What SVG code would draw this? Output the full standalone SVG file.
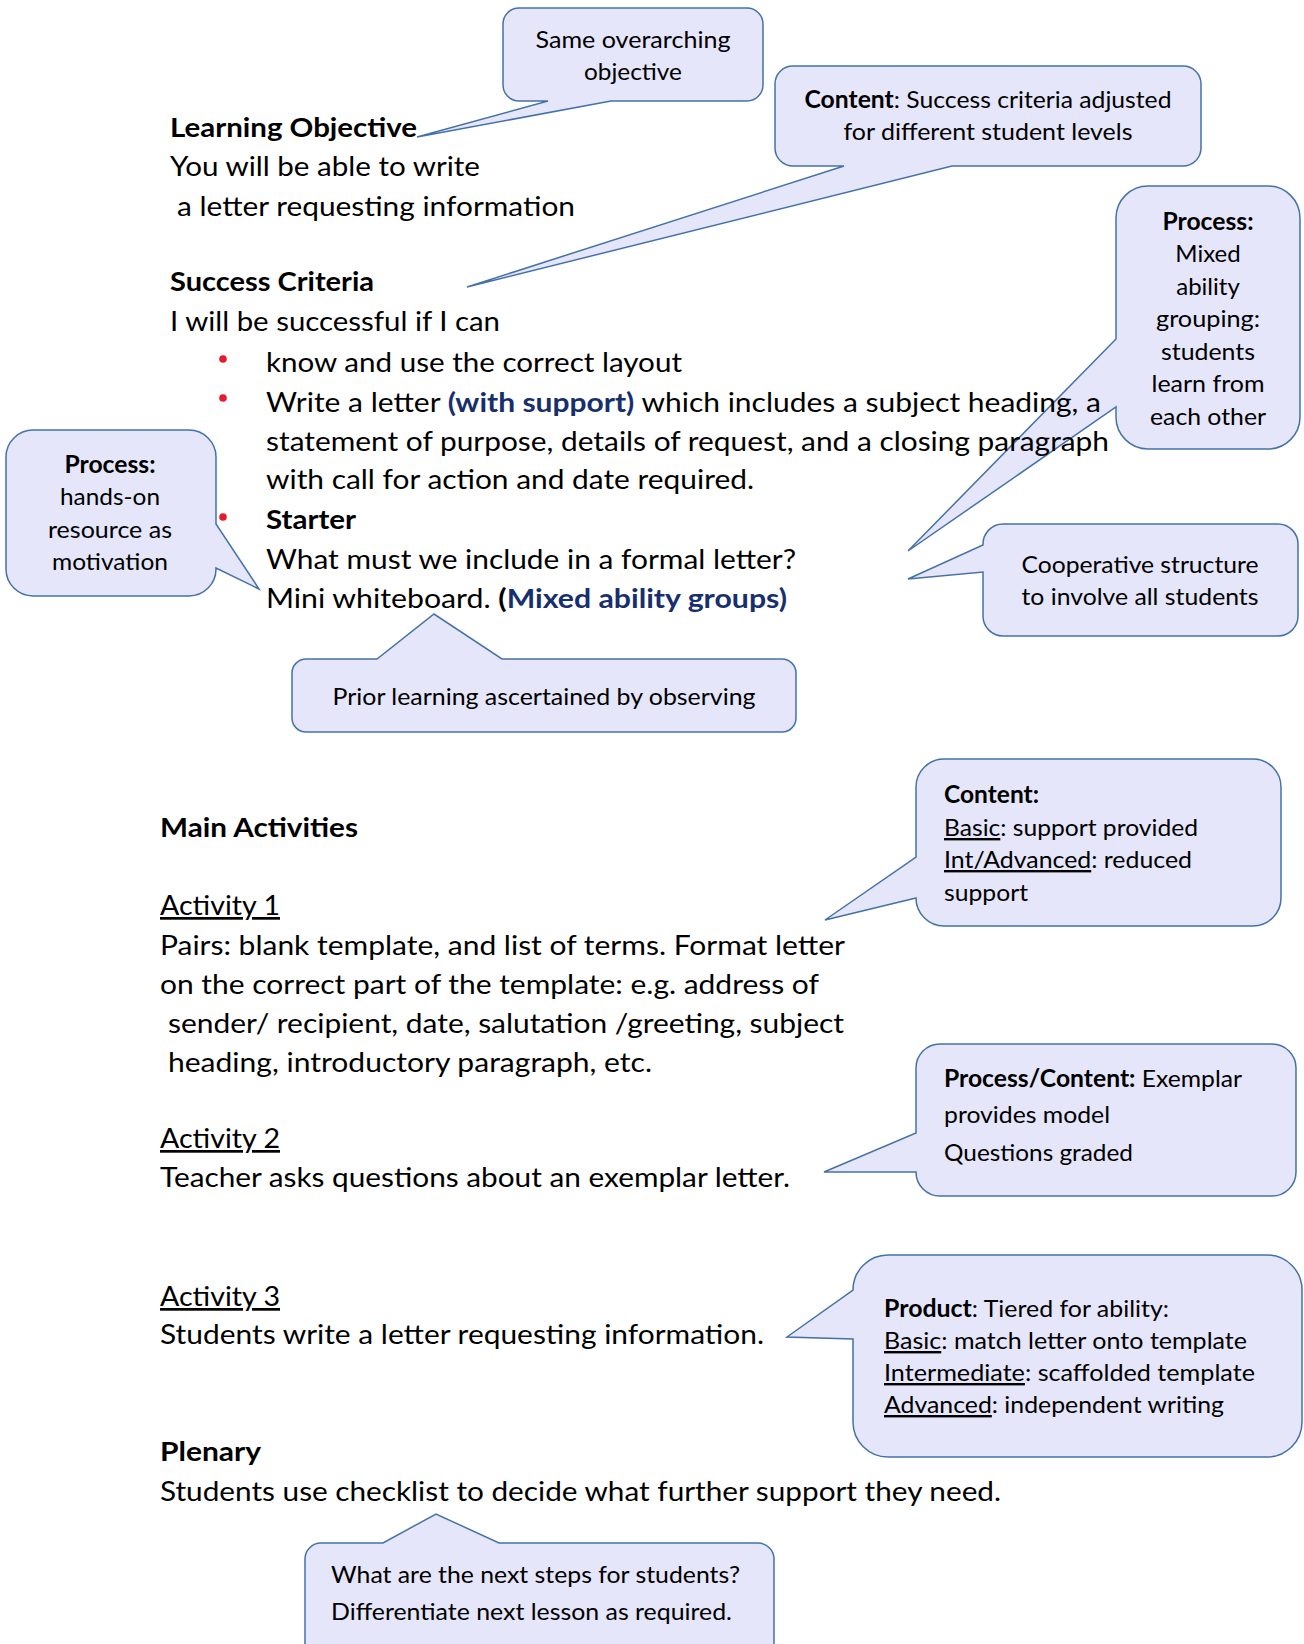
<svg xmlns="http://www.w3.org/2000/svg" width="1304" height="1644" viewBox="0 0 1304 1644">
<style>
text{font-family:Lato,"Open Sans","Liberation Sans",sans-serif;fill:#000}
.m{font-size:27px}
.c{font-size:24px}
.b{font-weight:bold}
.blue{fill:#182F6E;font-weight:bold}
.u{text-decoration:underline}
.mid{text-anchor:middle}
.co{fill:#E5E6FA;stroke:#4472A8;stroke-width:1.5;stroke-linejoin:miter}
.dot{fill:#E8192C}
</style>
<rect width="1304" height="1644" fill="#fff"/>

<g id="callout-same-objective">
<path class="co" d="M519,8 H747 A16,16 0 0 1 763,24 V85 A16,16 0 0 1 747,101 H611 L417,137 L548,101 H519 A16,16 0 0 1 503,85 V24 A16,16 0 0 1 519,8 Z"/>
<text class="c mid" x="633" y="48" textLength="195" lengthAdjust="spacingAndGlyphs">Same overarching</text>
<text class="c mid" x="633" y="80" textLength="98" lengthAdjust="spacingAndGlyphs">objective</text>
</g>

<g id="callout-content-criteria">
<path class="co" d="M793,66 H1183 A18,18 0 0 1 1201,84 V148 A18,18 0 0 1 1183,166 H952 L467,287 L844,166 H793 A18,18 0 0 1 775,148 V84 A18,18 0 0 1 793,66 Z"/>
<text class="c mid" x="988" y="108" textLength="367" lengthAdjust="spacingAndGlyphs"><tspan class="b">Content</tspan>: Success criteria adjusted</text>
<text class="c mid" x="988" y="140" textLength="289" lengthAdjust="spacingAndGlyphs">for different student levels</text>
</g>

<g id="callout-process-grouping">
<path class="co" d="M1148,186 H1268 A32,32 0 0 1 1300,218 V417 A32,32 0 0 1 1268,449 H1148 A32,32 0 0 1 1116,417 V407 L908,551 L1116,339 V218 A32,32 0 0 1 1148,186 Z"/>
<text class="c mid b" x="1208" y="230" textLength="91" lengthAdjust="spacingAndGlyphs">Process:</text>
<text class="c mid" x="1208" y="262">Mixed</text>
<text class="c mid" x="1208" y="295">ability</text>
<text class="c mid" x="1208" y="327" textLength="104" lengthAdjust="spacingAndGlyphs">grouping:</text>
<text class="c mid" x="1208" y="360" textLength="94" lengthAdjust="spacingAndGlyphs">students</text>
<text class="c mid" x="1208" y="392" textLength="113" lengthAdjust="spacingAndGlyphs">learn from</text>
<text class="c mid" x="1208" y="425" textLength="116" lengthAdjust="spacingAndGlyphs">each other</text>
</g>

<g id="callout-process-handson">
<path class="co" d="M33,430 H189 A27,27 0 0 1 216,457 V524 L259,589 L216,568 V569 A27,27 0 0 1 189,596 H33 A27,27 0 0 1 6,569 V457 A27,27 0 0 1 33,430 Z"/>
<text class="c mid b" x="110" y="473" textLength="91" lengthAdjust="spacingAndGlyphs">Process:</text>
<text class="c mid" x="110" y="505" textLength="100" lengthAdjust="spacingAndGlyphs">hands-on</text>
<text class="c mid" x="110" y="538" textLength="124" lengthAdjust="spacingAndGlyphs">resource as</text>
<text class="c mid" x="110" y="570" textLength="116" lengthAdjust="spacingAndGlyphs">motivation</text>
</g>

<g id="callout-cooperative">
<path class="co" d="M1003,524 H1278 A20,20 0 0 1 1298,544 V616 A20,20 0 0 1 1278,636 H1003 A20,20 0 0 1 983,616 V572 L908,579 L983,545 V544 A20,20 0 0 1 1003,524 Z"/>
<text class="c mid" x="1140" y="573" textLength="237" lengthAdjust="spacingAndGlyphs">Cooperative structure</text>
<text class="c mid" x="1140" y="605" textLength="237" lengthAdjust="spacingAndGlyphs">to involve all students</text>
</g>

<g id="callout-prior-learning">
<path class="co" d="M306,659 H377 L434,614 L502,659 H782 A14,14 0 0 1 796,673 V718 A14,14 0 0 1 782,732 H306 A14,14 0 0 1 292,718 V673 A14,14 0 0 1 306,659 Z"/>
<text class="c mid" x="544" y="705" textLength="423" lengthAdjust="spacingAndGlyphs">Prior learning ascertained by observing</text>
</g>

<g id="callout-content-support">
<path class="co" d="M944,759 H1253 A28,28 0 0 1 1281,787 V898 A28,28 0 0 1 1253,926 H944 A28,28 0 0 1 916,898 L825,920 L916,857 V787 A28,28 0 0 1 944,759 Z"/>
<text class="c b" x="944" y="803" textLength="95" lengthAdjust="spacingAndGlyphs">Content:</text>
<text class="c" x="944" y="836" textLength="254" lengthAdjust="spacingAndGlyphs"><tspan class="u">Basic</tspan>: support provided</text>
<text class="c" x="944" y="868" textLength="248" lengthAdjust="spacingAndGlyphs"><tspan class="u">Int/Advanced</tspan>: reduced</text>
<text class="c" x="944" y="901" textLength="84" lengthAdjust="spacingAndGlyphs">support</text>
</g>

<g id="callout-process-content">
<path class="co" d="M940,1044 H1272 A24,24 0 0 1 1296,1068 V1172 A24,24 0 0 1 1272,1196 H940 A24,24 0 0 1 916,1172 L824,1172 L916,1133 V1068 A24,24 0 0 1 940,1044 Z"/>
<text class="c" x="944" y="1087" textLength="298" lengthAdjust="spacingAndGlyphs"><tspan class="b">Process/Content:</tspan> Exemplar</text>
<text class="c" x="944" y="1123" textLength="166" lengthAdjust="spacingAndGlyphs">provides model</text>
<text class="c" x="944" y="1161" textLength="189" lengthAdjust="spacingAndGlyphs">Questions graded</text>
</g>

<g id="callout-product">
<path class="co" d="M888,1255 H1267 A35,35 0 0 1 1302,1290 V1422 A35,35 0 0 1 1267,1457 H888 A35,35 0 0 1 853,1422 V1339 L787,1337 L853,1290 A35,35 0 0 1 888,1255 Z"/>
<text class="c" x="884" y="1317" textLength="285" lengthAdjust="spacingAndGlyphs"><tspan class="b">Product</tspan>: Tiered for ability:</text>
<text class="c" x="884" y="1349" textLength="363" lengthAdjust="spacingAndGlyphs"><tspan class="u">Basic</tspan>: match letter onto template</text>
<text class="c" x="884" y="1381" textLength="371" lengthAdjust="spacingAndGlyphs"><tspan class="u">Intermediate</tspan>: scaffolded template</text>
<text class="c" x="884" y="1413" textLength="340" lengthAdjust="spacingAndGlyphs"><tspan class="u">Advanced</tspan>: independent writing</text>
</g>

<g id="callout-next-steps">
<path class="co" d="M321,1543 H383 L436,1514 L499,1543 H758 A16,16 0 0 1 774,1559 V1660 H305 V1559 A16,16 0 0 1 321,1543 Z"/>
<text class="c" x="331" y="1583" textLength="409" lengthAdjust="spacingAndGlyphs">What are the next steps for students?</text>
<text class="c" x="331" y="1620" textLength="401" lengthAdjust="spacingAndGlyphs">Differentiate next lesson as required.</text>
</g>

<g id="lesson-text">
<text class="m b" x="170" y="137" textLength="247" lengthAdjust="spacingAndGlyphs">Learning Objective</text>
<text class="m" x="170" y="176" textLength="310" lengthAdjust="spacingAndGlyphs">You will be able to write</text>
<text class="m" x="177" y="216" textLength="398" lengthAdjust="spacingAndGlyphs">a letter requesting information</text>
<text class="m b" x="170" y="291" textLength="204" lengthAdjust="spacingAndGlyphs">Success Criteria</text>
<text class="m" x="170" y="331" textLength="330" lengthAdjust="spacingAndGlyphs">I will be successful if I can</text>
<circle class="dot" cx="223" cy="359" r="3.8"/>
<text class="m" x="266" y="372" textLength="416" lengthAdjust="spacingAndGlyphs">know and use the correct layout</text>
<circle class="dot" cx="223" cy="398" r="3.8"/>
<text class="m" x="266" y="412" textLength="835" lengthAdjust="spacingAndGlyphs">Write a letter <tspan class="blue">(with support)</tspan> which includes a subject heading, a</text>
<text class="m" x="266" y="451" textLength="843" lengthAdjust="spacingAndGlyphs">statement of purpose, details of request, and a closing paragraph</text>
<text class="m" x="266" y="489" textLength="488" lengthAdjust="spacingAndGlyphs">with call for action and date required.</text>
<circle class="dot" cx="223" cy="517" r="3.8"/>
<text class="m b" x="266" y="529" textLength="90" lengthAdjust="spacingAndGlyphs">Starter</text>
<text class="m" x="266" y="569" textLength="530" lengthAdjust="spacingAndGlyphs">What must we include in a formal letter?</text>
<text class="m" x="266" y="608" textLength="521" lengthAdjust="spacingAndGlyphs">Mini whiteboard. <tspan class="b">(</tspan><tspan class="blue">Mixed ability groups)</tspan></text>

<text class="m b" x="160" y="837" textLength="198" lengthAdjust="spacingAndGlyphs">Main Activities</text>
<text class="m u" x="160" y="915" textLength="120" lengthAdjust="spacingAndGlyphs">Activity 1</text>
<text class="m" x="160" y="955" textLength="685" lengthAdjust="spacingAndGlyphs">Pairs: blank template, and list of terms. Format letter</text>
<text class="m" x="160" y="994" textLength="659" lengthAdjust="spacingAndGlyphs">on the correct part of the template: e.g. address of</text>
<text class="m" x="168" y="1033" textLength="676" lengthAdjust="spacingAndGlyphs">sender/ recipient, date, salutation /greeting, subject</text>
<text class="m" x="168" y="1072" textLength="484" lengthAdjust="spacingAndGlyphs">heading, introductory paragraph, etc.</text>
<text class="m u" x="160" y="1148" textLength="120" lengthAdjust="spacingAndGlyphs">Activity 2</text>
<text class="m" x="160" y="1187" textLength="630" lengthAdjust="spacingAndGlyphs">Teacher asks questions about an exemplar letter.</text>
<text class="m u" x="160" y="1306" textLength="120" lengthAdjust="spacingAndGlyphs">Activity 3</text>
<text class="m" x="160" y="1344" textLength="604" lengthAdjust="spacingAndGlyphs">Students write a letter requesting information.</text>
<text class="m b" x="160" y="1461" textLength="101" lengthAdjust="spacingAndGlyphs">Plenary</text>
<text class="m" x="160" y="1501" textLength="841" lengthAdjust="spacingAndGlyphs">Students use checklist to decide what further support they need.</text>
</g>
</svg>
